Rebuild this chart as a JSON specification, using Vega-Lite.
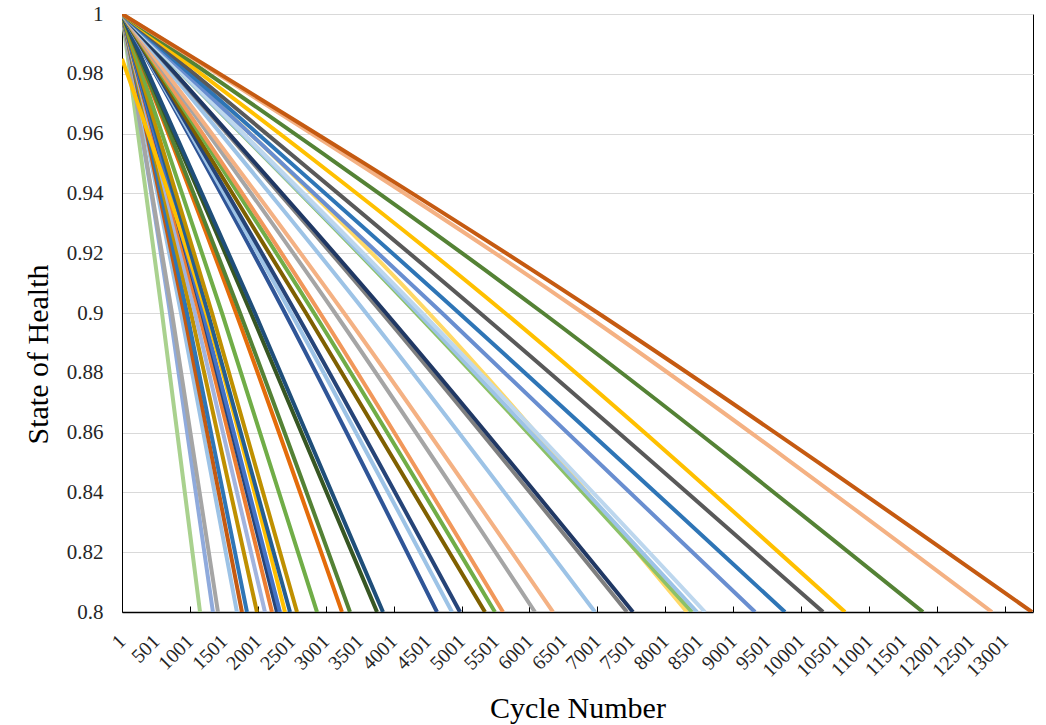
{
  "$schema": "https://vega.github.io/schema/vega-lite/v6.json",
  "width": 911,
  "height": 598,
  "autosize": {"type": "none"},
  "padding": {"left": 122, "top": 14, "right": 13, "bottom": 113},
  "background": "#ffffff",
  "config": {
    "view": {"stroke": "#000000", "strokeWidth": 1},
    "axis": {"labelFont": "Liberation Serif", "titleFont": "Liberation Serif", "labelColor": "#262626", "titleColor": "#000000", "titleFontWeight": "normal", "domainColor": "#000000"}
  },
  "data": {"values": [
    {"s": "01", "c": 1, "h": 1}, {"s": "01", "c": 590, "h": 0.9}, {"s": "01", "c": 1150, "h": 0.8},
    {"s": "02", "c": 1, "h": 1}, {"s": "02", "c": 708, "h": 0.9}, {"s": "02", "c": 1340, "h": 0.8},
    {"s": "03", "c": 1, "h": 1}, {"s": "03", "c": 737, "h": 0.9}, {"s": "03", "c": 1414, "h": 0.8},
    {"s": "04", "c": 1, "h": 1}, {"s": "04", "c": 870, "h": 0.9}, {"s": "04", "c": 1693, "h": 0.8},
    {"s": "05", "c": 1, "h": 1}, {"s": "05", "c": 914, "h": 0.9}, {"s": "05", "c": 1767, "h": 0.8},
    {"s": "06", "c": 1, "h": 1}, {"s": "06", "c": 958, "h": 0.9}, {"s": "06", "c": 1841, "h": 0.8},
    {"s": "07", "c": 1, "h": 1}, {"s": "07", "c": 1017, "h": 0.9}, {"s": "07", "c": 1988, "h": 0.8},
    {"s": "08", "c": 1, "h": 1}, {"s": "08", "c": 1076, "h": 0.9}, {"s": "08", "c": 2106, "h": 0.8},
    {"s": "09", "c": 1, "h": 1}, {"s": "09", "c": 1135, "h": 0.9}, {"s": "09", "c": 2209, "h": 0.8},
    {"s": "10", "c": 1, "h": 1}, {"s": "10", "c": 1179, "h": 0.9}, {"s": "10", "c": 2283, "h": 0.8},
    {"s": "11", "c": 1, "h": 1}, {"s": "11", "c": 1194, "h": 0.9}, {"s": "11", "c": 2327, "h": 0.8},
    {"s": "12", "c": 1, "h": 0.985}, {"s": "12", "c": 1238, "h": 0.9}, {"s": "12", "c": 2401, "h": 0.8},
    {"s": "13", "c": 1, "h": 1}, {"s": "13", "c": 1267, "h": 0.9}, {"s": "13", "c": 2475, "h": 0.8},
    {"s": "14", "c": 1, "h": 1}, {"s": "14", "c": 1326, "h": 0.9}, {"s": "14", "c": 2578, "h": 0.8},
    {"s": "15", "c": 1, "h": 1}, {"s": "15", "c": 1473, "h": 0.9}, {"s": "15", "c": 2872, "h": 0.8},
    {"s": "16", "c": 1, "h": 1}, {"s": "16", "c": 1680, "h": 0.9}, {"s": "16", "c": 3240, "h": 0.8},
    {"s": "17", "c": 1, "h": 1}, {"s": "17", "c": 1739, "h": 0.9}, {"s": "17", "c": 3358, "h": 0.8},
    {"s": "18", "c": 1, "h": 1}, {"s": "18", "c": 1900, "h": 0.9}, {"s": "18", "c": 3756, "h": 0.8},
    {"s": "19", "c": 1, "h": 1}, {"s": "19", "c": 1959, "h": 0.9}, {"s": "19", "c": 3844, "h": 0.8},
    {"s": "20", "c": 1, "h": 1}, {"s": "20", "c": 2401, "h": 0.9}, {"s": "20", "c": 4639, "h": 0.8},
    {"s": "21", "c": 1, "h": 1}, {"s": "21", "c": 2489, "h": 0.9}, {"s": "21", "c": 4860, "h": 0.8},
    {"s": "22", "c": 1, "h": 1}, {"s": "22", "c": 2563, "h": 0.9}, {"s": "22", "c": 4978, "h": 0.8},
    {"s": "23", "c": 1, "h": 1}, {"s": "23", "c": 2710, "h": 0.9}, {"s": "23", "c": 5346, "h": 0.8},
    {"s": "24", "c": 1, "h": 1}, {"s": "24", "c": 2828, "h": 0.9}, {"s": "24", "c": 5493, "h": 0.8},
    {"s": "25", "c": 1, "h": 1}, {"s": "25", "c": 2917, "h": 0.9}, {"s": "25", "c": 5611, "h": 0.8},
    {"s": "26", "c": 1, "h": 1}, {"s": "26", "c": 3137, "h": 0.9}, {"s": "26", "c": 6082, "h": 0.8},
    {"s": "27", "c": 1, "h": 1}, {"s": "27", "c": 3270, "h": 0.9}, {"s": "27", "c": 6347, "h": 0.8},
    {"s": "28", "c": 1, "h": 1}, {"s": "28", "c": 3594, "h": 0.9}, {"s": "28", "c": 6966, "h": 0.8},
    {"s": "29", "c": 1, "h": 1}, {"s": "29", "c": 3830, "h": 0.9}, {"s": "29", "c": 7437, "h": 0.8},
    {"s": "30", "c": 1, "h": 1}, {"s": "30", "c": 3888, "h": 0.9}, {"s": "30", "c": 7525, "h": 0.8},
    {"s": "31", "c": 1, "h": 1}, {"s": "31", "c": 4520, "h": 0.9}, {"s": "31", "c": 8320, "h": 0.8},
    {"s": "32", "c": 1, "h": 1}, {"s": "32", "c": 4330, "h": 0.9}, {"s": "32", "c": 8394, "h": 0.8},
    {"s": "33", "c": 1, "h": 1}, {"s": "33", "c": 4360, "h": 0.9}, {"s": "33", "c": 8468, "h": 0.8},
    {"s": "34", "c": 1, "h": 1}, {"s": "34", "c": 4419, "h": 0.9}, {"s": "34", "c": 8585, "h": 0.8},
    {"s": "35", "c": 1, "h": 1}, {"s": "35", "c": 4713, "h": 0.9}, {"s": "35", "c": 9322, "h": 0.8},
    {"s": "36", "c": 1, "h": 1}, {"s": "36", "c": 4963, "h": 0.9}, {"s": "36", "c": 9763, "h": 0.8},
    {"s": "37", "c": 1, "h": 1}, {"s": "37", "c": 5273, "h": 0.9}, {"s": "37", "c": 10323, "h": 0.8},
    {"s": "38", "c": 1, "h": 1}, {"s": "38", "c": 5641, "h": 0.9}, {"s": "38", "c": 10647, "h": 0.8},
    {"s": "39", "c": 1, "h": 1}, {"s": "39", "c": 6200, "h": 0.9}, {"s": "39", "c": 11795, "h": 0.8},
    {"s": "40", "c": 1, "h": 1}, {"s": "40", "c": 6789, "h": 0.9}, {"s": "40", "c": 12811, "h": 0.8},
    {"s": "41", "c": 1, "h": 1}, {"s": "41", "c": 7010, "h": 0.9}, {"s": "41", "c": 13401, "h": 0.8}
  ]},
  "encoding": {
    "y": {
      "field": "h", "type": "quantitative",
      "scale": {"domain": [0.8, 1], "nice": false, "zero": false},
      "axis": {
        "values": [0.8, 0.82, 0.84, 0.86, 0.88, 0.9, 0.92, 0.94, 0.96, 0.98, 1],
        "format": "~g", "ticks": false, "tickSize": 0, "labelPadding": 19, "labelFontSize": 21,
        "grid": true, "gridColor": "#D9D9D9", "gridWidth": 1,
        "title": "State of Health", "titleFontSize": 30, "titleX": -84, "titleY": 340,
        "titleAngle": -90, "titleAlign": "center", "titleBaseline": "middle"
      }
    }
  },
  "layer": [
    {
      "mark": {"type": "line", "strokeWidth": 4, "interpolate": "monotone", "clip": true},
      "encoding": {
        "x": {
          "field": "c", "type": "quantitative",
          "scale": {"domain": [1, 13415], "nice": false, "zero": false},
          "axis": {
            "orient": "bottom",
            "values": [1, 501, 1001, 1501, 2001, 2501, 3001, 3501, 4001, 4501, 5001, 5501, 6001, 6501, 7001, 7501, 8001, 8501, 9001, 9501, 10001, 10501, 11001, 11501, 12001, 12501, 13001],
            "format": "d", "ticks": false, "tickSize": 0, "labelAngle": -45, "labelAlign": "right", "labelBaseline": "middle",
            "labelPadding": 26, "labelFontSize": 20, "labelOverlap": false, "labelFlush": false,
            "grid": false, "domainWidth": 1.5,
            "title": "Cycle Number", "titleFontSize": 30, "titleY": 96, "titleBaseline": "middle"
          }
        },
        "color": {
          "field": "s", "type": "nominal", "legend": null,
          "scale": {
            "domain": ["01","02","03","04","05","06","07","08","09","10","11","12","13","14","15","16","17","18","19","20","21","22","23","24","25","26","27","28","29","30","31","32","33","34","35","36","37","38","39","40","41"],
            "range": ["#A9D18E","#8FAADC","#A5A5A5","#9DC3E6","#C55A11","#2E75B6","#BF9000","#A2B4DE","#ED7D31","#264478","#4472C4","#FFC000","#255E91","#BF9000","#70AD47","#E46C0A","#548235","#375623","#1F4E79","#2F5597","#9DC3E6","#264478","#7F6000","#70AD47","#F1975A","#A5A5A5","#F4B183","#9DC3E6","#7F7F7F","#203864","#FFD966","#8CC168","#9DC3E6","#BDD7EE","#698ED0","#2E75B6","#595959","#FFC000","#548235","#F4B183","#C55A11"]
          }
        },
        "order": {"field": "c", "type": "quantitative"}
      }
    },
    {
      "mark": {"type": "line", "opacity": 0},
      "encoding": {
        "x": {
          "field": "c", "type": "quantitative",
          "axis": {
            "orient": "bottom",
            "values": [1001, 2001, 3001, 4001, 5001, 6001, 7001, 8001, 9001, 10001, 11001, 12001, 13001],
            "labels": false, "ticks": true, "tickSize": -6, "tickColor": "#000000", "tickWidth": 1,
            "domain": false, "grid": false, "title": null
          }
        },
        "detail": {"field": "s", "type": "nominal"}
      }
    }
  ],
  "resolve": {"axis": {"x": "independent"}}
}
